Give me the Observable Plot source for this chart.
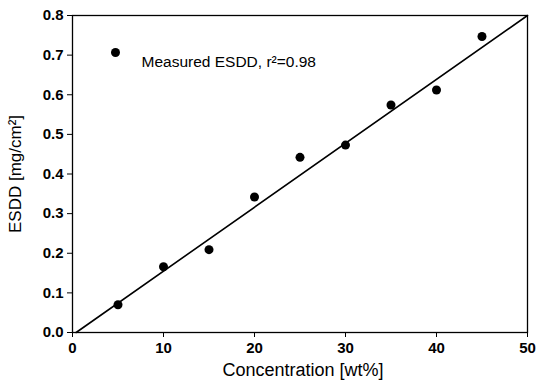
<!DOCTYPE html>
<html>
<head>
<meta charset="utf-8">
<script src="https://cdn.jsdelivr.net/npm/d3@7"></script>
<script src="https://cdn.jsdelivr.net/npm/@observablehq/plot@0.6"></script>
<style>
  html, body { margin: 0; padding: 0; background: #fff; }
  #chart svg { display: block; }
</style>
</head>
<body>
<div id="chart"></div>
<script>
const concentration = [5, 10, 15, 20, 25, 30, 35, 40, 45];
const esdd = [0.070, 0.166, 0.209, 0.342, 0.442, 0.473, 0.574, 0.612, 0.747];

// Fitted line end points
const fitX = [0.4, 50];
const fitY = [0, 0.8];

const xTicks = [0, 10, 20, 30, 40, 50];
const yTicks = [0, 0.1, 0.2, 0.3, 0.4, 0.5, 0.6, 0.7, 0.8];
const xLabel = "Concentration [wt%]";
const yLabel = "ESDD [mg/cm\u00B2]";
const legendLabel = "Measured ESDD, r\u00B2=0.98";

const points = concentration.map((c, i) => ({x: c, y: esdd[i]}));
const fit = fitX.map((x, i) => ({x, y: fitY[i]}));

const font = "'Liberation Sans', Arial, sans-serif";

const chart = Plot.plot({
  width: 536,
  height: 383,
  marginLeft: 72,
  marginRight: 9,
  marginTop: 15,
  marginBottom: 51,
  style: {fontFamily: font, fontSize: "14px", color: "#000", background: "#fff"},
  x: {domain: [0, 50]},
  y: {domain: [0, 0.8]},
  marks: [
    Plot.axisX({ticks: xTicks, tickSize: 5, tickPadding: 5, tickFormat: d3.format("d"),
      fontWeight: "bold", fontSize: 15, label: null}),
    Plot.axisY({ticks: yTicks, tickSize: 5, tickPadding: 4, tickFormat: d3.format(".1f"),
      fontWeight: "bold", fontSize: 15, label: null}),
    Plot.text([xLabel], {text: d => d, frameAnchor: "bottom", textAnchor: "middle", dx: 3, dy: 43, fontSize: 18, fill: "#000"}),
    Plot.text([yLabel], {text: d => d, frameAnchor: "left", textAnchor: "middle", rotate: -90, dx: -57, dy: 0, fontSize: 17, fill: "#000"}),
    Plot.frame({stroke: "#000", strokeWidth: 1.3}),
    Plot.line(fit, {x: "x", y: "y", stroke: "#000", strokeWidth: 1.6}),
    Plot.dot(points, {x: "x", y: "y", r: 4.5, fill: "#000", stroke: "none"}),
    Plot.dot([legendLabel], {frameAnchor: "top-left", dx: 43, dy: 37, r: 4.5, fill: "#000", stroke: "none"}),
    Plot.text([legendLabel], {text: d => d, frameAnchor: "top-left", dx: 69, dy: 40, textAnchor: "start", fontSize: 15.5, fill: "#000"})
  ]
});

document.getElementById("chart").appendChild(chart);
</script>
</body>
</html>
